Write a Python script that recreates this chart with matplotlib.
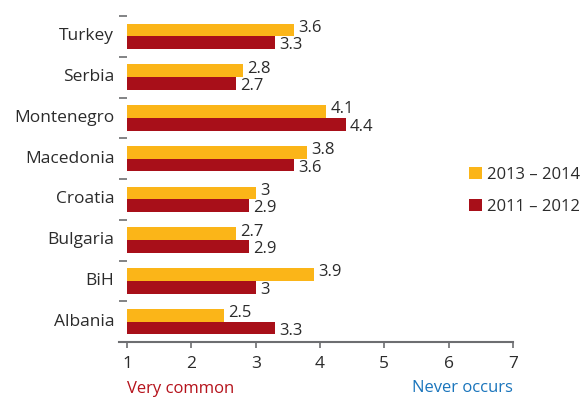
import numpy as np
import matplotlib
matplotlib.use("Agg")
import matplotlib.pyplot as plt

plt.rcParams['font.family'] = ['Open Sans', 'DejaVu Sans']

# data (bottom to top)
countries = ["Albania", "BiH", "Bulgaria", "Croatia", "Macedonia", "Montenegro", "Serbia", "Turkey"]
vals_1314 = [2.5, 3.9, 2.7, 3.0, 3.8, 4.1, 2.8, 3.6]
vals_1112 = [3.3, 3.0, 2.9, 2.9, 3.6, 4.4, 2.7, 3.3]
labels_1314 = ["2.5", "3.9", "2.7", "3", "3.8", "4.1", "2.8", "3.6"]
labels_1112 = ["3.3", "3", "2.9", "2.9", "3.6", "4.4", "2.7", "3.3"]
series_names = ["2013 \u2013 2014", "2011 \u2013 2012"]
xticks = [1, 2, 3, 4, 5, 6, 7]

orange = "#FBB518"
red = "#A80F19"
txt = "#2b2b2b"
grey = "#6d6e71"

fig = plt.figure(figsize=(5.86, 3.97), dpi=100)
ax = fig.add_axes([119 / 586, 1 - 342 / 397, (513 - 119) / 586, (342 - 16) / 397])

y = np.arange(len(countries))
h = 0.31
base = 1.0
b1 = ax.barh(y + h / 2, np.array(vals_1314) - base, left=base, height=h, color=orange, label=series_names[0])
b2 = ax.barh(y - h / 2, np.array(vals_1112) - base, left=base, height=h, color=red, label=series_names[1])

for i in range(len(countries)):
    ax.annotate(labels_1314[i], (vals_1314[i], y[i] + h / 2), xytext=(3, 1.5), textcoords="offset points",
                ha="left", va="center", fontsize=12, color=txt)
    ax.annotate(labels_1112[i], (vals_1112[i], y[i] - h / 2), xytext=(3, -2), textcoords="offset points",
                ha="left", va="center", fontsize=12, color=txt)

ax.set_xlim(0.875, 7)
ax.set_ylim(-0.5, 7.5)

# category names as text, separator ticks on y axis
ax.set_yticks(np.arange(0.5, 8, 1))
ax.set_yticklabels([])
ax.tick_params(axis="y", direction="in", length=6, width=1.2, color=grey, left=True)
for i, c in enumerate(countries):
    ax.text(-0.012, y[i], c, transform=ax.get_yaxis_transform(), ha="right", va="center",
            fontsize=12.5, color=txt)

ax.set_xticks(xticks)
ax.set_xticklabels([str(t) for t in xticks])
ax.tick_params(axis="x", direction="out", length=4, width=1.2, color=grey, pad=6,
               labelsize=12.5, labelcolor=txt)

for s in ["top", "right", "left"]:
    ax.spines[s].set_visible(False)
ax.spines["bottom"].set_color(grey)
ax.spines["bottom"].set_linewidth(1.5)

fig.text(127 / 586, 1 - 389 / 397, "Very common", ha="left", va="center", fontsize=12, color="#B5121B")
fig.text(513 / 586, 1 - 388 / 397, "Never occurs", ha="right", va="center", fontsize=12, color="#1A75BC")

fig.legend(handles=[b1, b2], loc="upper left", bbox_to_anchor=(469 / 586, 1 - 167 / 397),
           frameon=False, fontsize=12, handlelength=0.75, handleheight=0.75, handletextpad=0.35,
           labelspacing=0.95, borderpad=0, borderaxespad=0, labelcolor=txt)

fig.savefig("out.png", dpi=100)
